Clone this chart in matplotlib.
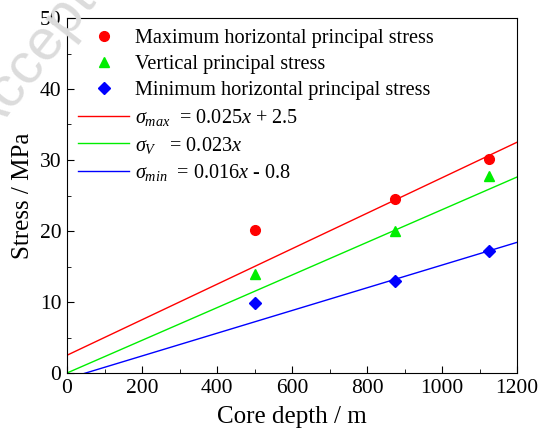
import numpy as np
import matplotlib
matplotlib.use('Agg')
import matplotlib.pyplot as plt
from matplotlib.ticker import MultipleLocator

plt.rcParams['font.family'] = 'Liberation Serif'
plt.rcParams['mathtext.fontset'] = 'custom'
plt.rcParams['mathtext.rm'] = 'Liberation Serif'
plt.rcParams['mathtext.it'] = 'Liberation Serif:italic'

# measured in-situ stress vs. core depth
depth = [500, 875, 1125]
sigma_max = [20.1, 24.5, 30.2]
sigma_v = [13.9, 20.0, 27.7]
sigma_min = [9.9, 13.0, 17.2]

# linear fits: (slope, intercept)
fit_max = (0.025, 2.5)
fit_v = (0.023, 0.0)
fit_min = (0.016, -0.8)

W, H = 539, 440
fig = plt.figure(figsize=(W / 100, H / 100), dpi=100)
ax = fig.add_axes([67 / W, 1 - 373 / H, 450 / W, 355 / H])

ax.plot(depth, sigma_max, 'o', color='red', ms=7, label='Maximum horizontal principal stress')
ax.plot(depth, sigma_v, '^', color='#00ee00', ms=7, label='Vertical principal stress')
ax.plot(depth, sigma_min, 'D', color='blue', ms=6, label='Minimum horizontal principal stress')

xx = np.linspace(0, 1200, 200)
ax.plot(xx, fit_max[0] * xx + fit_max[1], color='red', lw=1,
        label=r'$\sigma_{max}$  = 0.025$x$ + 2.5')
ax.plot(xx, fit_v[0] * xx + fit_v[1], color='#00ee00', lw=1,
        label=r'$\sigma_{V}$   = 0.023$x$')
ax.plot(xx, fit_min[0] * xx + fit_min[1], color='blue', lw=1,
        label=r'$\sigma_{min}$  = 0.016$x$ - 0.8')

ax.set_xlim(0, 1200)
ax.set_ylim(0, 50)
ax.xaxis.set_major_locator(MultipleLocator(200))
ax.xaxis.set_minor_locator(MultipleLocator(100))
ax.yaxis.set_major_locator(MultipleLocator(10))
ax.yaxis.set_minor_locator(MultipleLocator(5))
ax.tick_params(which='both', direction='in', labelsize=15.5, top=False, right=False)
ax.tick_params(which='major', length=5, pad=4)
ax.tick_params(which='minor', length=3)
ax.set_xlabel('Core depth / m', fontsize=18, labelpad=6)
ax.set_ylabel('Stress / MPa', fontsize=18, labelpad=4)

ax.legend(loc='upper left', frameon=False, fontsize=14.6, handlelength=2.5,
          handletextpad=0.3, labelspacing=0.33, borderaxespad=0.15,
          borderpad=0.4)

# faint watermark across the upper-left corner
fig.text(-12 / W, 1 - 143 / H, 'Accepted Manuscript', rotation=52,
         rotation_mode='anchor', fontsize=42, family='Liberation Sans',
         color='#dcdcdc', ha='left', va='baseline', zorder=10)

fig.savefig('out.png', dpi=100)
